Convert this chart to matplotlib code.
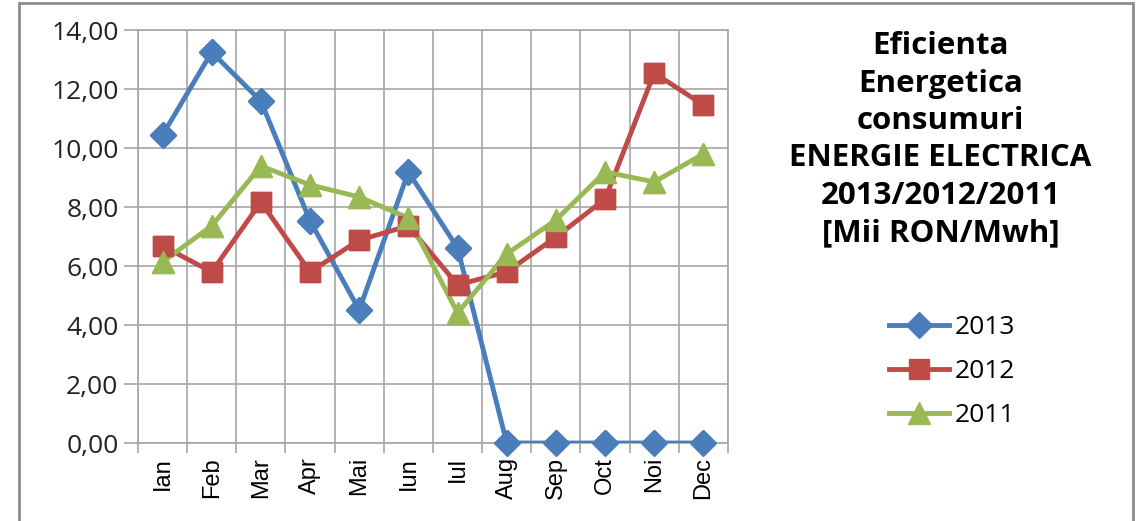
import matplotlib
matplotlib.use("Agg")
import matplotlib.pyplot as plt
from matplotlib.ticker import FuncFormatter, MultipleLocator

months = ["Ian", "Feb", "Mar", "Apr", "Mai", "Iun", "Iul", "Aug", "Sep", "Oct", "Noi", "Dec"]
v2013 = [10.44, 13.25, 11.59, 7.53, 4.51, 9.19, 6.61, 0, 0, 0, 0, 0]
v2012 = [6.68, 5.80, 8.17, 5.80, 6.88, 7.36, 5.36, 5.80, 6.98, 8.27, 12.54, 11.46]
v2011 = [6.14, 7.36, 9.39, 8.75, 8.34, 7.63, 4.41, 6.41, 7.56, 9.19, 8.85, 9.80]

series = [
    ("2013", v2013, "#4a7ebb", "D", 13),
    ("2012", v2012, "#be4b48", "s", 15),
    ("2011", v2011, "#98b954", "^", 16),
]

plt.rcParams["font.family"] = ["Open Sans", "DejaVu Sans"]
grid_col = "#a6a6a6"

fig = plt.figure(figsize=(11.4, 5.21), dpi=100)
ax = fig.add_axes([0.121, 0.1497, 0.5176, 0.7927])

x = list(range(len(months)))
for name, vals, col, mk, ms in series:
    ax.plot(x, vals, color=col, lw=3.5, marker=mk, markersize=ms, label=name, zorder=3)
    # markers unclipped so the zero points show in full
    ax.plot(x, vals, ls="none", color=col, marker=mk, markersize=ms, clip_on=False, zorder=4)

ax.set_xlim(-0.5, 11.5)
ax.set_ylim(0, 14)
ax.yaxis.set_major_locator(MultipleLocator(2))
ax.yaxis.set_major_formatter(FuncFormatter(lambda v, p: f"{v:.2f}".replace(".", ",")))
ax.set_xticks(x)
ax.set_xticklabels(months, rotation=90, fontsize=17, family="Liberation Sans")
ax.set_xticks([i - 0.5 for i in range(13)], minor=True)
ax.tick_params(axis="x", which="major", length=0, pad=10)
ax.tick_params(axis="x", which="minor", length=7, color=grid_col, width=1.2)
ax.tick_params(axis="y", length=10, color=grid_col, width=1.2, labelsize=19, pad=4, labelcolor="#222222")
ax.grid(axis="y", which="major", color=grid_col, lw=1.2)
ax.grid(axis="x", which="minor", color=grid_col, lw=1.2)
for s in ax.spines.values():
    s.set_color(grid_col)
    s.set_linewidth(1.2)

fig.text(0.825, 0.94, "Eficienta\nEnergetica\nconsumuri\nENERGIE ELECTRICA\n2013/2012/2011\n[Mii RON/Mwh]",
         ha="center", va="top", fontsize=22.5, fontweight="bold", linespacing=1.32)

handles, labels = ax.get_legend_handles_labels()
fig.legend(handles, labels, loc="upper left", bbox_to_anchor=(0.768, 0.42), frameon=False,
           fontsize=19, handlelength=2.3, labelspacing=0.72, handletextpad=0.2, borderpad=0)

# outer chart border
fig.patches.append(plt.Rectangle((0.0167, -0.01), 0.977, 1.004, transform=fig.transFigure,
                                 fill=False, edgecolor="#8c8c8c", lw=2))

fig.savefig("out.png", dpi=100)
